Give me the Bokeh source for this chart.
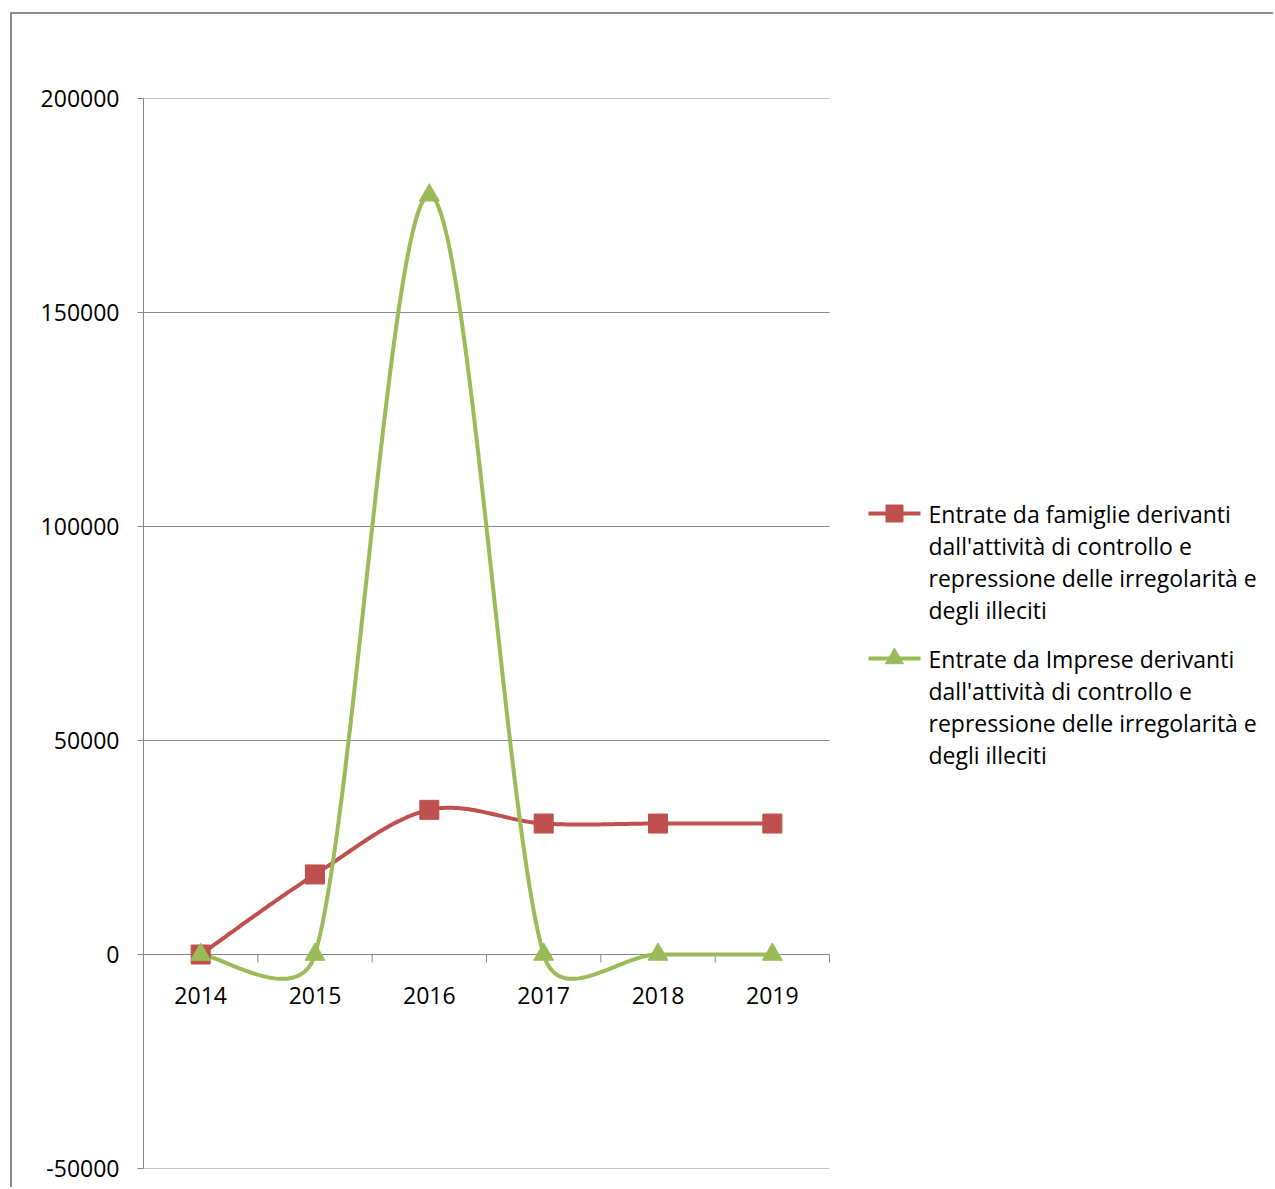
import numpy as np
from bokeh.plotting import figure
from bokeh.models import Range1d, FixedTicker, CustomJSTickFormatter
from bokeh.embed import file_html
from bokeh.resources import INLINE
from bokeh.core.properties import value

# ---- data ----
years = [2014, 2015, 2016, 2017, 2018, 2019]
famiglie = [0, 18700, 33800, 30600, 30600, 30600]
imprese = [0, 0, 177400, 0, 0, 0]
y_ticks = [-50000, 0, 50000, 100000, 150000, 200000]
label_famiglie = ["Entrate da famiglie derivanti", "dall'attività di controllo e",
                  "repressione delle irregolarità e", "degli illeciti"]
label_imprese = ["Entrate da Imprese derivanti", "dall'attività di controllo e",
                 "repressione delle irregolarità e", "degli illeciti"]

RED = "#C0504D"
GREEN = "#9BBB59"
GRAY = "#868686"
FONT = "Open Sans"

# page layout (px from page top-left)
OFF_X, OFF_Y = 12, 14          # canvas origin (after CSS margin + border)
PAGE_W, PAGE_H = 1275, 1189
P_LEFT, P_TOP, P_BOTTOM, P_CHART_RIGHT = 143, 98, 1168, 829

W, H = PAGE_W - OFF_X, PAGE_H - OFF_Y
x0 = years[0] - 0.5
y0, y1 = y_ticks[0], y_ticks[-1]
sx = (P_CHART_RIGHT - P_LEFT) / len(years)          # px per category
sy = (P_BOTTOM - P_TOP) / (y1 - y0)                 # px per unit
x_end = x0 + (PAGE_W - P_LEFT) / sx

p = figure(width=W, height=H, output_backend="svg", toolbar_location=None,
           x_range=Range1d(x0, x_end), y_range=Range1d(y0, y1), x_axis_location=None,
           min_border_left=P_LEFT - OFF_X, min_border_right=0, min_border_top=P_TOP - OFF_Y,
           min_border_bottom=PAGE_H - P_BOTTOM)
p.styles = {"margin-left": "10px", "margin-top": "12px",
            "border-left": "2px solid #8C8C8C", "border-top": "2px solid #8C8C8C"}
p.outline_line_color = None
p.background_fill_color = "white"
p.border_fill_color = "white"
p.xgrid.visible = False
p.ygrid.visible = False

ax = p.yaxis[0]
ax.ticker = FixedTicker(ticks=y_ticks)
ax.formatter = CustomJSTickFormatter(code="return tick.toString()")
ax.major_tick_out = 6
ax.major_tick_in = 0
ax.minor_tick_out = 0
ax.minor_tick_in = 0
ax.axis_line_color = GRAY
ax.major_tick_line_color = GRAY
ax.major_label_text_font = FONT
ax.major_label_text_font_size = "23px"
ax.major_label_text_color = "black"
ax.major_label_standoff = 18

x_right = years[-1] + 0.5
# horizontal grid lines (chart area only)
p.segment(x0=[x0] * len(y_ticks), y0=y_ticks, x1=[x_right] * len(y_ticks), y1=y_ticks,
          line_color=GRAY, line_width=1)


def smooth(xs, ys, f=1 / 6, n=50):
    """Excel-like smoothed line: Catmull-Rom Bezier in screen space,
    handles limited to half of the segment length."""
    P = np.array([[x * sx, y * sy] for x, y in zip(xs, ys)], float)
    m = len(P)
    T = [(P[min(i + 1, m - 1)] - P[max(i - 1, 0)]) * f for i in range(m)]
    outx, outy = [], []
    t = np.linspace(0, 1, n)

    def clamp(v, lim):
        L = np.linalg.norm(v)
        return v * (lim / L) if L > lim and L > 0 else v

    for i in range(m - 1):
        p1, p2 = P[i], P[i + 1]
        d = np.linalg.norm(p2 - p1)
        c1 = p1 + clamp(T[i], d / 2)
        c2 = p2 - clamp(T[i + 1], d / 2)
        b = (np.outer((1 - t) ** 3, p1) + np.outer(3 * (1 - t) ** 2 * t, c1)
             + np.outer(3 * (1 - t) * t ** 2, c2) + np.outer(t ** 3, p2))
        outx.extend(b[:, 0] / sx)
        outy.extend(b[:, 1] / sy)
    return outx, outy


# category axis at y = 0: tick marks at boundaries and year labels
bounds = [y - 0.5 for y in years] + [x_right]
p.segment(x0=bounds, y0=[0] * len(bounds), x1=bounds, y1=[-8 / sy] * len(bounds),
          line_color=GRAY, line_width=1)
p.text(x=years, y=[0] * len(years), text=[str(y) for y in years], text_align="center",
       text_baseline="middle", y_offset=41, text_font=value(FONT), text_font_size="23px",
       text_color="black")

fx, fy = smooth(years, famiglie)
ix, iy = smooth(years, imprese)
p.line(fx, fy, line_color=RED, line_width=4)
p.line(ix, iy, line_color=GREEN, line_width=4)
p.scatter(years, famiglie, marker="square", size=19, fill_color=RED, line_color=RED)
p.scatter(years, imprese, marker="triangle", size=20, fill_color=GREEN, line_color=GREEN)


# ---- legend (drawn in the area right of the chart) ----
def dx(px):
    return x0 + (px - P_LEFT) / sx


def dy(py):
    return y1 - (py - P_TOP) / sy


LINE_PITCH = 32.3


def legend_entry(lines, color, marker, msize, top_center):
    ys = [dy(top_center + i * LINE_PITCH) for i in range(len(lines))]
    p.segment(x0=[dx(868)], y0=[ys[0]], x1=[dx(920)], y1=[ys[0]], line_color=color, line_width=4)
    p.scatter([dx(894)], [ys[0]], marker=marker, size=msize, fill_color=color, line_color=color)
    p.text(x=[dx(928)] * len(lines), y=ys, text=lines, text_align="left",
           text_baseline="middle", text_font=value(FONT), text_font_size="23px",
           text_color="black")


legend_entry(label_famiglie, RED, "square", 17, 513)
legend_entry(label_imprese, GREEN, "triangle", 18, 658)

open("out.html", "w").write(file_html(p, INLINE))
